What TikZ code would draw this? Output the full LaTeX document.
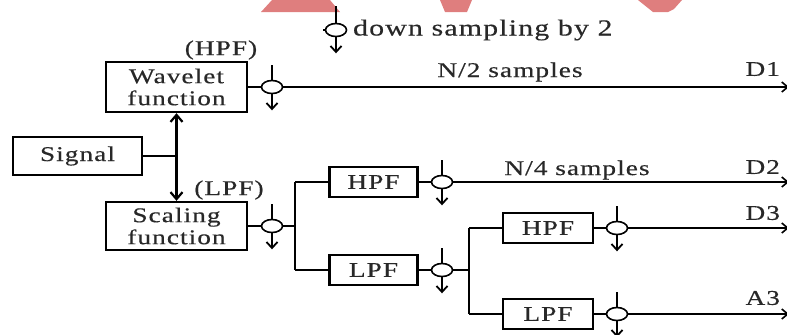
\documentclass[tikz,border=0pt]{standalone}
\usepackage{fontspec}
\setmainfont{Liberation Serif}[FakeStretch=1.3,LetterSpace=5,FakeBold=0.4]
\usetikzlibrary{shapes.geometric,arrows.meta}
\definecolor{wmpink}{RGB}{223,126,126}
\definecolor{inkgray}{RGB}{40,40,40}

\begin{document}
\begin{tikzpicture}[x=0.5pt,y=-0.5pt,font=\fontsize{10.5}{11}\selectfont,text=inkgray,
    filter node/.style={draw,line width=1.2pt,minimum width=44pt,minimum height=15pt,inner sep=0pt,align=center},
    ds node/.style={ellipse,draw,line width=0.8pt,minimum width=10.5pt,minimum height=6.5pt,inner sep=0pt},
    link/.style={line width=0.8pt},
    down arrow/.style={line width=0.9pt,-{Straight Barb[length=3pt,width=5.5pt]}} ]
    \useasboundingbox (0,0) rectangle (787,334);
    \fill [wmpink] (272,0) -- (330,0) -- (340,12) -- (261,12) -- cycle;
    \fill [wmpink] (440,0) -- (472,0) -- (467,12) -- (445,12) -- cycle;
    \fill [wmpink] (638,0) -- (682,0) -- (674,9) -- (668,12) -- (653,12) -- cycle;
    % legend
    \node at (336,30) [ds node] (L) {};
    \node at (346,30) [anchor=west,font=\fontsize{11.5}{12}\selectfont] (Ltext) {down sampling by 2};
    \coordinate (L0) at (323,30);
    \draw [link] (L0) to (L.west);
    \draw [link] (L.north) to ++(0,-17);
    \draw [down arrow] (L.south) to ++(0,16);
    % first level
    \node at (77.5,156) [filter node,minimum width=64.5pt,minimum height=19pt] (S) {Signal};
    \node at (176.5,87) [filter node,minimum width=70.5pt,minimum height=25pt] (W) {Wavelet\\function};
    \node at (176.5,226) [filter node,minimum width=70.5pt,minimum height=24pt] (C) {Scaling\\function};
    \node at (221,50) {(HPF)};
    \node at (229,190) {(LPF)};
    \draw [line width=1.1pt,{Straight Barb[length=3.5pt,width=6pt]}-{Straight Barb[length=3.5pt,width=6pt]}] (W.south) to (C.north);
    \coordinate (J0) at (176.5,156);
    \draw [line width=0.6pt] (S.east) to (J0);
    \node at (272,87) [ds node] (D1) {};
    \node at (272,226) [ds node] (D2) {};
    \draw [link] (W.east) to (D1.west);
    \draw [link] (C.east) to (D2.west);
    \coordinate (E1) at (789,87);
    \draw [link,-{Straight Barb[length=3pt,width=5pt]}] (D1.east) to (E1);
    \node at (510,72) {N/2 samples};
    \node at (787,69) [anchor=east] {D1};
    % second level
    \node at (373.5,182) [filter node] (H1) {HPF};
    \node at (373.5,270) [filter node] (P1) {LPF};
    \coordinate (J1) at (295,226);
    \coordinate (J1a) at (295,182);
    \coordinate (J1b) at (295,270);
    \draw [link] (D2.east) to (J1);
    \draw [link] (J1a) to (J1b);
    \draw [link] (J1a) to (H1.west);
    \draw [link] (J1b) to (P1.west);
    \node at (442,182) [ds node] (D3) {};
    \node at (442,270) [ds node] (D4) {};
    \draw [link] (H1.east) to (D3.west);
    \draw [link] (P1.east) to (D4.west);
    \coordinate (E2) at (789,182);
    \draw [link,-{Straight Barb[length=3pt,width=5pt]}] (D3.east) to (E2);
    \node at (577,170) {N/4 samples};
    \node at (787,167) [anchor=east] {D2};
    % third level
    \node at (548,228) [filter node,minimum width=45pt] (H2) {HPF};
    \node at (548,314) [filter node,minimum width=45pt] (P2) {LPF};
    \coordinate (J2) at (469,270);
    \coordinate (J2a) at (469,228);
    \coordinate (J2b) at (469,314);
    \draw [link] (D4.east) to (J2);
    \draw [link] (J2a) to (J2b);
    \draw [link] (J2a) to (H2.west);
    \draw [link] (J2b) to (P2.west);
    \node at (617,228) [ds node] (D5) {};
    \node at (617,314) [ds node] (D6) {};
    \draw [link] (H2.east) to (D5.west);
    \draw [link] (P2.east) to (D6.west);
    \coordinate (E3) at (789,228);
    \coordinate (E4) at (789,314);
    \draw [link,-{Straight Barb[length=3pt,width=5pt]}] (D5.east) to (E3);
    \draw [link,-{Straight Barb[length=3pt,width=5pt]}] (D6.east) to (E4);
    \node at (787,213) [anchor=east] {D3};
    \node at (787,298) [anchor=east] {A3};
    % down sampling marks
    \draw [link] (D1.north) to ++(0,-15);
    \draw [down arrow] (D1.south) to ++(0,16);
    \draw [link] (D2.north) to ++(0,-15);
    \draw [down arrow] (D2.south) to ++(0,16);
    \draw [link] (D3.north) to ++(0,-15);
    \draw [down arrow] (D3.south) to ++(0,16);
    \draw [link] (D4.north) to ++(0,-15);
    \draw [down arrow] (D4.south) to ++(0,16);
    \draw [link] (D5.north) to ++(0,-15);
    \draw [down arrow] (D5.south) to ++(0,16);
    \draw [link] (D6.north) to ++(0,-15);
    \draw [down arrow] (D6.south) to ++(0,16);
\end{tikzpicture}
\end{document}
